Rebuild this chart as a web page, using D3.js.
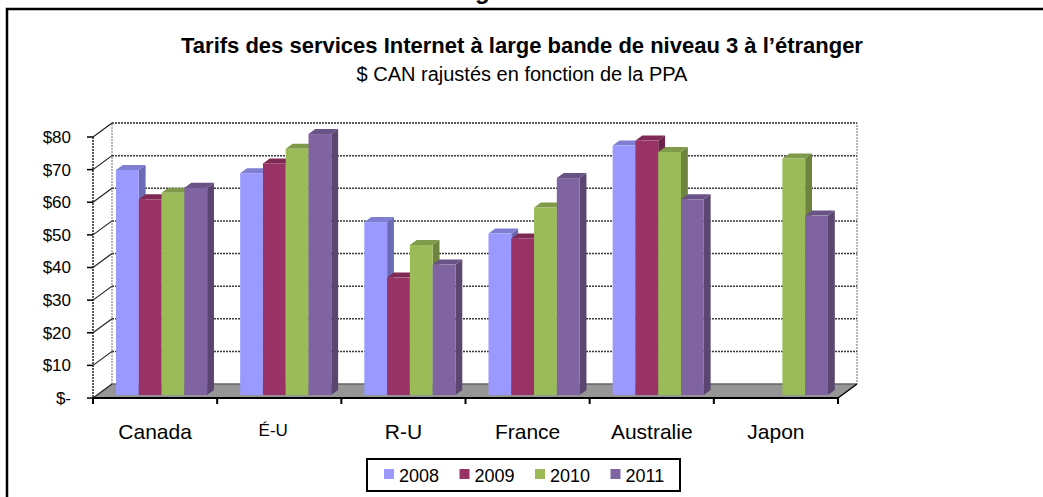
<!DOCTYPE html>
<html>
<head>
<meta charset="utf-8">
<script src="https://cdn.jsdelivr.net/npm/d3@7"></script>
<style>
  html, body { margin: 0; padding: 0; background: #fff; }
  svg { display: block; font-family: "Liberation Sans", Arial, sans-serif; }
</style>
</head>
<body>
<div id="chart"></div>
<script>
// data
const categories = ["Canada", "É-U", "R-U", "France", "Australie", "Japon"];
const years = ["2008", "2009", "2010", "2011"];
const v2008 = [69, 68, 53, 49.5, 76.5, null];
const v2009 = [60, 71, 36, 48, 78, null];
const v2010 = [62, 75.5, 46, 57.5, 74.5, 72.5];
const v2011 = [63.5, 80, 40, 66.5, 60, 55];
const yTicks = [0, 10, 20, 30, 40, 50, 60, 70, 80];
const yTickLabels = ["$-", "$10", "$20", "$30", "$40", "$50", "$60", "$70", "$80"];
const colors = ["#9999FF", "#993366", "#9BBB59", "#8064A2"];

const series = [v2008, v2009, v2010, v2011];

const width = 1043, height = 497;
const DX = 19, DY = -14;       // depth offset of the back wall
const barD0 = 0.21, barD1 = 0.57; // bar depth between these fractions

const svg = d3.select("#chart").append("svg")
  .attr("width", width).attr("height", height);

// outer frame (cut off at right and bottom)
svg.append("rect")
  .attr("x", 7).attr("y", 9).attr("width", 1100).attr("height", 600)
  .attr("fill", "none").attr("stroke", "#000").attr("stroke-width", 2.5);

// descender of the clipped heading above the frame
svg.append("text").attr("x", 475).attr("y", -1)
  .attr("font-size", 24).attr("font-weight", "bold").text("g");

// titles
svg.append("text").attr("x", 522).attr("y", 53).attr("text-anchor", "middle")
  .attr("font-size", 22).attr("font-weight", "bold")
  .text("Tarifs des services Internet à large bande de niveau 3 à l’étranger");
svg.append("text").attr("x", 522).attr("y", 81).attr("text-anchor", "middle")
  .attr("font-size", 20)
  .text("$ CAN rajustés en fonction de la PPA");

// scales
const x = d3.scaleBand().domain(categories).range([93, 838]).padding(0);
const xSub = d3.scaleBand().domain(years)
  .range([x.bandwidth() * 0.153, x.bandwidth() * 0.887]);
const y = d3.scaleLinear().domain([0, 80]).range([398, 137]);

const proj = (px, py, d) => [px + d * DX, py + d * DY];
const pts = (arr) => arr.map(p => p.join(",")).join(" ");

const x0 = x.range()[0], x1 = x.range()[1];

// floor
const floor = svg.append("g");
floor.append("polygon")
  .attr("points", pts([proj(x0, y(0), 0), proj(x1, y(0), 0), proj(x1, y(0), 1), proj(x0, y(0), 1)]))
  .attr("fill", "#969696");
floor.append("line")
  .attr("x1", proj(x0, y(0), 1)[0]).attr("y1", proj(x0, y(0), 1)[1])
  .attr("x2", proj(x1, y(0), 1)[0]).attr("y2", proj(x1, y(0), 1)[1])
  .attr("stroke", "#666").attr("stroke-width", 1.5);

// back wall outline
const wall = svg.append("g").attr("fill", "none");
wall.append("polyline")
  .attr("points", pts([proj(x0, y(0), 1), proj(x0, y(80), 1), proj(x1, y(80), 1), proj(x1, y(0), 1)]))
  .attr("stroke", "#888").attr("stroke-width", 1.2).attr("stroke-dasharray", "2,1");

// gridlines on the back wall + side wall diagonals
const grid = svg.append("g");
grid.selectAll("line.g")
  .data(yTicks.filter(t => t > 0))
  .join("line").attr("class", "g")
  .attr("x1", proj(x0, 0, 1)[0]).attr("x2", proj(x1, 0, 1)[0])
  .attr("y1", d => proj(0, y(d), 1)[1]).attr("y2", d => proj(0, y(d), 1)[1])
  .attr("stroke", "#3a3a3a").attr("stroke-width", 1.5).attr("stroke-dasharray", "2,1");
grid.selectAll("line.d")
  .data(yTicks)
  .join("line").attr("class", "d")
  .attr("x1", x0).attr("y1", d => y(d))
  .attr("x2", proj(x0, y(0), 1)[0]).attr("y2", d => proj(x0, y(d), 1)[1])
  .attr("stroke", "#222").attr("stroke-width", 1.2);

// y axis
const yAxis = svg.append("g");
yAxis.append("line").attr("x1", x0).attr("x2", x0).attr("y1", y(80)).attr("y2", y(0))
  .attr("stroke", "#222").attr("stroke-width", 1.5).attr("stroke-dasharray", "2,1");
yAxis.selectAll("line.t").data(yTicks).join("line").attr("class", "t")
  .attr("x1", x0 - 6).attr("x2", x0).attr("y1", d => y(d)).attr("y2", d => y(d))
  .attr("stroke", "#000").attr("stroke-width", 1.5);
yAxis.selectAll("text").data(yTicks).join("text")
  .attr("x", 71).attr("y", d => y(d)).attr("dy", "0.35em")
  .attr("text-anchor", "end").attr("font-size", 17)
  .text((d, i) => yTickLabels[i]);

// bars
const bars = svg.append("g");
categories.forEach((c, ci) => {
  series.forEach((s, si) => {
    const v = s[ci];
    if (v == null) return;
    const bx = x(c) + xSub(years[si]);
    const bw = xSub.bandwidth();
    const col = d3.color(colors[si]);
    const f0 = proj(bx, y(v), barD0), f1 = proj(bx + bw, y(v), barD0);
    const b0 = proj(bx, y(v), barD1), b1 = proj(bx + bw, y(v), barD1);
    const g0 = proj(bx + bw, y(0), barD0), g1 = proj(bx + bw, y(0), barD1);
    const g = bars.append("g");
    // side
    g.append("polygon").attr("points", pts([f1, b1, g1, g0]))
      .attr("fill", col.darker(1.0));
    // top
    g.append("polygon").attr("points", pts([f0, f1, b1, b0]))
      .attr("fill", col.darker(0.55));
    // front
    g.append("rect")
      .attr("x", f0[0]).attr("y", f0[1])
      .attr("width", bw).attr("height", g0[1] - f0[1])
      .attr("fill", col);
  });
});

// x axis
const xAxis = svg.append("g");
xAxis.append("line").attr("x1", x0).attr("x2", x1).attr("y1", y(0)).attr("y2", y(0))
  .attr("stroke", "#000").attr("stroke-width", 2);
xAxis.append("line")
  .attr("x1", x1).attr("y1", y(0))
  .attr("x2", proj(x1, y(0), 1)[0]).attr("y2", proj(x1, y(0), 1)[1])
  .attr("stroke", "#000").attr("stroke-width", 1.5);
const bounds = categories.map(c => x(c)).concat([x1]);
xAxis.selectAll("line.t").data(bounds).join("line").attr("class", "t")
  .attr("x1", d => d).attr("x2", d => d).attr("y1", y(0)).attr("y2", y(0) + 6)
  .attr("stroke", "#000").attr("stroke-width", 2);
xAxis.selectAll("text").data(categories).join("text")
  .attr("x", d => x(d) + x.bandwidth() / 2 - (d === "É-U" ? 6 : 0))
  .attr("y", d => d === "É-U" ? 436 : 439)
  .attr("text-anchor", "middle")
  .attr("font-size", d => d === "É-U" ? 17 : 21)
  .text(d => d);

// legend
const legend = svg.append("g");
legend.append("rect").attr("x", 367).attr("y", 459).attr("width", 313).attr("height", 32)
  .attr("fill", "#fff").attr("stroke", "#000").attr("stroke-width", 2);
const item = legend.selectAll("g.item").data(years).join("g").attr("class", "item")
  .attr("transform", (d, i) => `translate(${384 + i * 75.5},0)`);
item.append("rect").attr("x", 0).attr("y", 469).attr("width", 10).attr("height", 10)
  .attr("fill", (d, i) => colors[i]);
item.append("text").attr("x", 15).attr("y", 482).attr("font-size", 18).text(d => d);
</script>
</body>
</html>
